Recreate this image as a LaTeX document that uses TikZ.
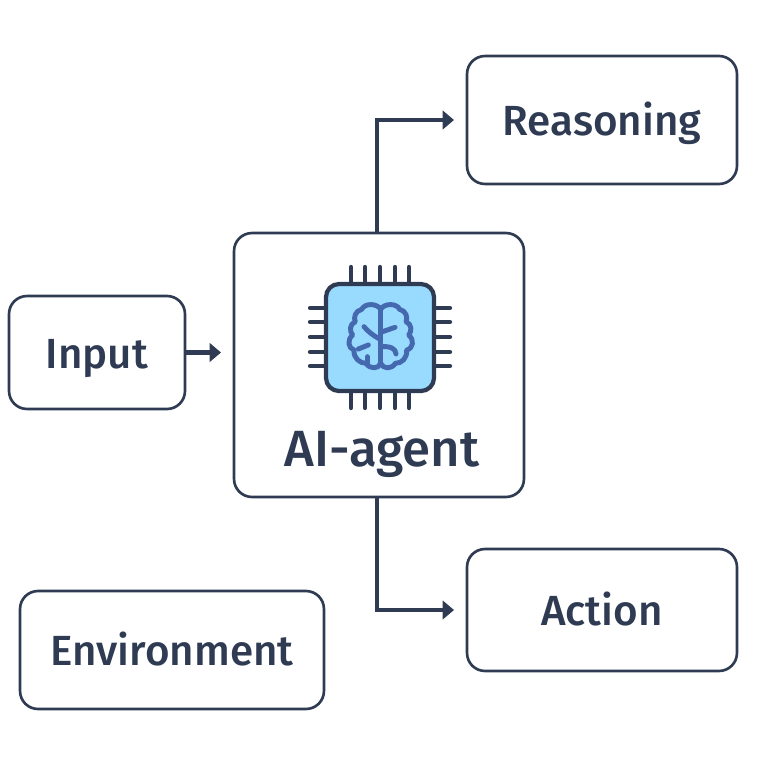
\documentclass[tikz,border=0pt]{standalone}
\usepackage{xcolor}
\usepackage{fontspec}
\setmainfont{Fira Sans Medium}
\usetikzlibrary{arrows.meta, positioning}
\definecolor{inkslate}{HTML}{2F3B52}
\definecolor{chipblue}{HTML}{99DAFF}
\definecolor{brainblue}{HTML}{4569AE}
\tikzset{
  panel/.style={draw=inkslate, line width=1.5pt, rounded corners=0.36cm, fill=white, inner sep=0pt, outer sep=0pt, text=inkslate, text height=0.72cm, text depth=0.1cm, font=\fontsize{24}{26}\selectfont},
  flow/.style={draw=inkslate, line width=2.6pt, -{Triangle[length=6.5pt,width=10.5pt]}, shorten >=0.26cm}
}

\begin{document}
\begin{tikzpicture}[x=0.02cm, y=-0.02cm]
  \useasboundingbox (0,0) rectangle (768,768);

  % Boxes
  \node[panel, minimum width=5.4cm, minimum height=2.56cm] (reasoning) at (602,120) {Reasoning};
  \node[panel, minimum width=5.8cm, minimum height=5.28cm] (agent) at (379,365) {};
  \node[panel, minimum width=3.52cm, minimum height=2.26cm] (input) at (97,352.5) {Input};
  \node[panel, minimum width=5.4cm, minimum height=2.44cm] (action) at (602,610) {Action};
  \node[panel, minimum width=6.08cm, minimum height=2.36cm] (environment) at (172,650) {Environment};
  \node[text=inkslate, inner sep=0pt, text height=0.78cm, text depth=0.1cm, font=\fontsize{29}{31}\selectfont] (agentlabel) at (382,449) {AI-agent};

  % Connectors
  \coordinate (topout) at (377,233);
  \coordinate (botout) at (377,497);
  \draw[flow] (input.east) -- (agent.west |- input.east);
  \draw[flow] (topout) |- (reasoning.west);
  \draw[flow] (botout) |- (action.west);

  % Chip pins
  \foreach \p in {351,365,380,395,409} {
    \draw[inkslate, line width=2.4pt, line cap=round] (\p,267) -- (\p,284);
    \draw[inkslate, line width=2.4pt, line cap=round] (\p,391) -- (\p,408);
  }
  \foreach \p in {308,322,337,352,366} {
    \draw[inkslate, line width=2.4pt, line cap=round] (310,\p) -- (326,\p);
    \draw[inkslate, line width=2.4pt, line cap=round] (434,\p) -- (450,\p);
  }

  % Chip body
  \draw[inkslate, fill=chipblue, line width=2.4pt, rounded corners=0.26cm] (326,284) rectangle (434,391);

  % Brain
  \begin{scope}[shift={(290,250)}, scale=1/3, brainblue, line width=2.8pt, line cap=round, line join=round]
    \draw (272,178) .. controls (262,160) and (225,158) .. (215,178)
      .. controls (195,182) and (190,205) .. (196,215)
      .. controls (178,222) and (178,245) .. (188,255)
      .. controls (170,270) and (175,295) .. (192,300)
      .. controls (190,325) and (210,340) .. (228,340)
      .. controls (240,358) and (265,358) .. (272,340)
      .. controls (280,358) and (305,358) .. (316,340)
      .. controls (335,340) and (352,325) .. (350,300)
      .. controls (370,295) and (374,270) .. (356,255)
      .. controls (366,245) and (366,222) .. (348,215)
      .. controls (354,205) and (349,182) .. (329,178)
      .. controls (319,158) and (282,160) .. (272,178);
    \draw (272,178) -- (272,340);
    \draw (222,230) .. controls (235,245) and (250,258) .. (272,268);
    \draw (315,232) -- (272,247);
    \draw (272,290) .. controls (300,288) and (318,295) .. (318,312);
    \draw (235,285) -- (205,297);
    \draw (232,320) -- (232,340);
  \end{scope}
\end{tikzpicture}
\end{document}
